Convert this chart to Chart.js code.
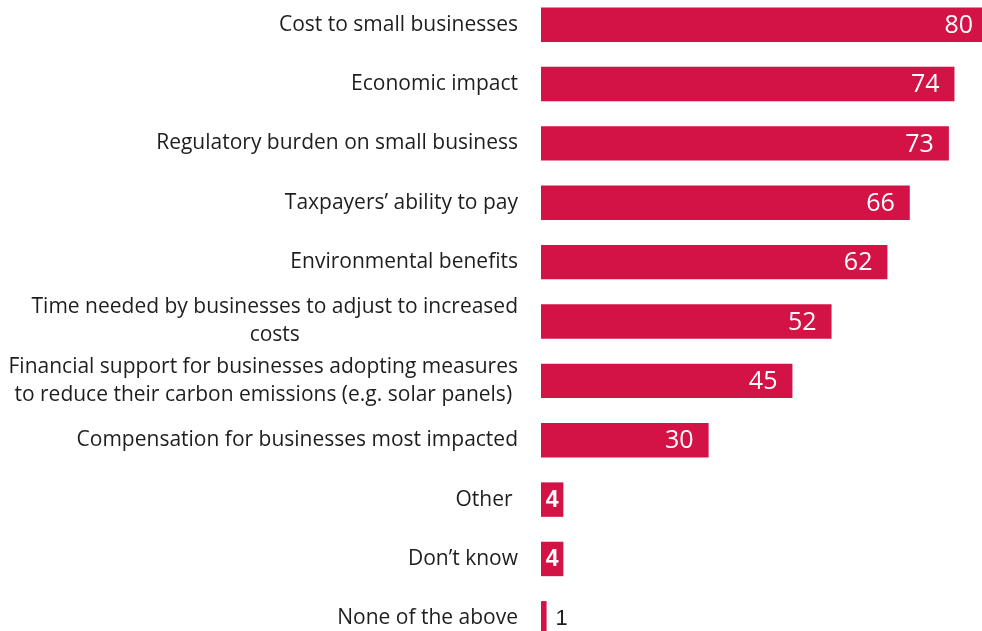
<!DOCTYPE html>
<html>
<head>
<meta charset="utf-8">
<script src="https://cdn.jsdelivr.net/npm/chart.js@4/dist/chart.umd.min.js"></script>
<style>
  html, body { margin: 0; padding: 0; background: #fff; overflow: hidden; width: 982px; height: 631px; }
  #wrap { position: absolute; left: 0; top: -5px; width: 988px; height: 653px; }
</style>
</head>
<body>
<div id="wrap"><canvas id="chart"></canvas></div>
<script>
const categories = [
  ["Cost to small businesses"],
  ["Economic impact"],
  ["Regulatory burden on small business"],
  ["Taxpayers\u2019 ability to pay"],
  ["Environmental benefits"],
  ["Time needed by businesses to adjust to increased", "costs"],
  ["Financial support for businesses adopting measures", "to reduce their carbon emissions (e.g. solar panels)"],
  ["Compensation for businesses most impacted"],
  ["Other "],
  ["Don\u2019t know"],
  ["None of the above"],
];
const values = [80, 74, 73, 66, 62, 52, 45, 30, 4, 4, 1];

const BAR_COLOR = "#d31245";
const TEXT_COLOR = "#1e1e1e";
const AXIS_WIDTH = 541;
const LABEL_GAP = 23;

// category text drawn by hand so wrapped lines can sit centred under each other
const categoryLabels = {
  id: "categoryLabels",
  afterDraw(chart) {
    const ctx = chart.ctx;
    const yScale = chart.scales.y;
    const right = chart.chartArea.left - LABEL_GAP;
    const lineHeight = 28;
    ctx.save();
    ctx.font = "21px 'Open Sans'";
    ctx.fillStyle = TEXT_COLOR;
    ctx.textBaseline = "middle";
    ctx.textAlign = "center";
    categories.forEach((lines, i) => {
      const cy = yScale.getPixelForValue(i);
      const widest = Math.max(...lines.map((l) => ctx.measureText(l).width));
      const cx = right - widest / 2;
      const top = cy - ((lines.length - 1) * lineHeight) / 2;
      lines.forEach((line, j) => ctx.fillText(line, cx, top + j * lineHeight));
    });
    ctx.restore();
  },
};

// value at the end of each bar, moved inside/centred/outside depending on room
const valueLabels = {
  id: "valueLabels",
  afterDatasetsDraw(chart) {
    const ctx = chart.ctx;
    const meta = chart.getDatasetMeta(0);
    ctx.save();
    ctx.textBaseline = "middle";
    meta.data.forEach((bar, i) => {
      const text = String(values[i]);
      const barW = bar.x - bar.base;
      ctx.font = "25px 'Open Sans'";
      let w = ctx.measureText(text).width;
      if (w + 30 <= barW) {
        ctx.fillStyle = "#fff";
        ctx.textAlign = "right";
        ctx.fillText(text, bar.x - 15, bar.y + 1);
        return;
      }
      ctx.font = "bold 23px 'Liberation Sans'";
      w = ctx.measureText(text).width;
      if (w + 4 <= barW) {
        ctx.fillStyle = "#fff";
        ctx.textAlign = "center";
        ctx.fillText(text, (bar.x + bar.base) / 2, bar.y + 1);
      } else {
        ctx.font = "22px 'Liberation Sans'";
        ctx.fillStyle = TEXT_COLOR;
        ctx.textAlign = "left";
        ctx.fillText(text, bar.x + 9, bar.y + 1);
      }
    });
    ctx.restore();
  },
};

new Chart(document.getElementById("chart"), {
  type: "bar",
  data: {
    labels: categories,
    datasets: [
      {
        data: values,
        backgroundColor: BAR_COLOR,
        borderWidth: 0,
        barPercentage: 0.58,
        categoryPercentage: 1,
        clip: false,
      },
    ],
  },
  options: {
    indexAxis: "y",
    responsive: true,
    maintainAspectRatio: false,
    animation: false,
    layout: { padding: 0 },
    plugins: { legend: { display: false }, tooltip: { enabled: false } },
    scales: {
      x: { display: false, min: 0, max: 80 },
      y: {
        grid: { display: false, drawTicks: false },
        border: { display: false },
        ticks: { display: false },
        afterFit(scale) {
          scale.width = AXIS_WIDTH;
        },
      },
    },
  },
  plugins: [categoryLabels, valueLabels],
});
</script>
</body>
</html>
